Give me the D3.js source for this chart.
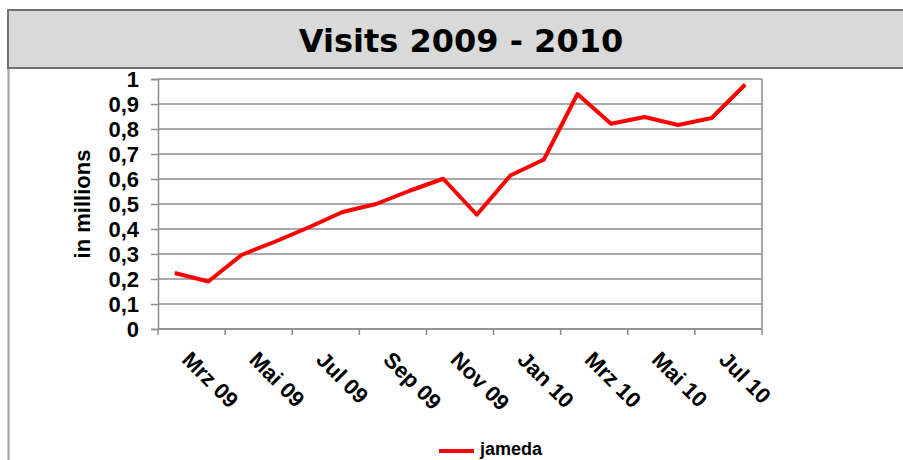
<!DOCTYPE html>
<html lang="de">

<head>
  <meta charset="UTF-8">
  <title>Visits 2009 - 2010</title>
  <script src="https://d3js.org/d3.v7.min.js"></script>
  <style>
    body {
      margin: 0;
      background: #fff;
      overflow: hidden;
    }

    text {
      font-family: "Liberation Sans", Arial, sans-serif;
      font-weight: bold;
      fill: #000;
    }

    .title {
      font-family: "DejaVu Sans", Verdana, sans-serif;
    }
  </style>
</head>

<body>
  <div id="chart"></div>

  <script>
    const months = ["Mrz 09", "Apr 09", "Mai 09", "Jun 09", "Jul 09", "Aug 09", "Sep 09", "Okt 09", "Nov 09",
      "Dez 09", "Jan 10", "Feb 10", "Mrz 10", "Apr 10", "Mai 10", "Jun 10", "Jul 10", "Aug 10"];
    const visits = [0.224, 0.19, 0.297, 0.35, 0.407, 0.468, 0.50, 0.553, 0.601,
      0.457, 0.614, 0.678, 0.94, 0.821, 0.848, 0.816, 0.844, 0.978];
    const yTicks = [0, 0.1, 0.2, 0.3, 0.4, 0.5, 0.6, 0.7, 0.8, 0.9, 1];
    const seriesName = "jameda";

    const W = 903, H = 460;
    const plot = { left: 158, right: 762, top: 79, bottom: 329 };

    const svg = d3.select("#chart").append("svg")
      .attr("width", W)
      .attr("height", H);

    // outer chart frame (left edge visible)
    svg.append("line")
      .attr("x1", 8.5).attr("x2", 8.5)
      .attr("y1", 60).attr("y2", H)
      .attr("stroke", "#a0a0a0")
      .attr("stroke-width", 2);

    // title box
    svg.append("rect")
      .attr("x", 8).attr("y", 10)
      .attr("width", W + 20).attr("height", 58)
      .attr("fill", "#d9d9d9")
      .attr("stroke", "#707070")
      .attr("stroke-width", 2);

    svg.append("text")
      .attr("class", "title")
      .attr("x", 461)
      .attr("y", 52)
      .attr("text-anchor", "middle")
      .attr("font-size", "32px")
      .text("Visits 2009 - 2010");

    const x = d3.scaleBand().domain(months).range([plot.left, plot.right]);
    const y = d3.scaleLinear().domain([0, 1]).range([plot.bottom, plot.top]);

    // gridlines
    svg.append("g")
      .selectAll("line")
      .data(yTicks)
      .join("line")
      .attr("x1", plot.left).attr("x2", plot.right)
      .attr("y1", d => y(d)).attr("y2", d => y(d))
      .attr("stroke", "#8c8c8c")
      .attr("stroke-width", 1.5);

    // right border
    svg.append("line")
      .attr("x1", plot.right).attr("x2", plot.right)
      .attr("y1", plot.top).attr("y2", plot.bottom)
      .attr("stroke", "#8c8c8c")
      .attr("stroke-width", 1.5);

    // y axis
    const yAxis = svg.append("g")
      .attr("transform", `translate(${plot.left},0)`)
      .call(d3.axisLeft(y).tickValues(yTicks).tickSize(7).tickPadding(12)
        .tickFormat(d => d3.format(".1~f")(d).replace(".", ",")));
    yAxis.attr("font-family", null);
    yAxis.select(".domain").attr("stroke", "#8c8c8c").attr("stroke-width", 1.5);
    yAxis.selectAll(".tick line").attr("stroke", "#8c8c8c").attr("stroke-width", 1.5);
    yAxis.selectAll(".tick text")
      .attr("font-size", "22px")
      .attr("dy", "0.36em");

    // x axis: ticks every second category boundary
    const bounds = d3.range(0, months.length + 1, 2).map(i => plot.left + i * x.bandwidth());
    svg.append("line")
      .attr("x1", plot.left).attr("x2", plot.right)
      .attr("y1", plot.bottom).attr("y2", plot.bottom)
      .attr("stroke", "#8c8c8c")
      .attr("stroke-width", 1.5);
    svg.append("g")
      .selectAll("line")
      .data(bounds)
      .join("line")
      .attr("x1", d => d).attr("x2", d => d)
      .attr("y1", plot.bottom).attr("y2", plot.bottom + 6)
      .attr("stroke", "#8c8c8c")
      .attr("stroke-width", 1.5);

    svg.append("g")
      .selectAll("text")
      .data(months.filter((m, i) => i % 2 === 0))
      .join("text")
      .attr("transform", d => `translate(${x(d) + x.bandwidth() / 2 + 6},${plot.bottom + 32}) rotate(45)`)
      .attr("font-size", "22px")
      .text(d => d);

    // y axis title
    svg.append("text")
      .attr("transform", `translate(90,${(plot.top + plot.bottom) / 2}) rotate(-90)`)
      .attr("text-anchor", "middle")
      .attr("font-size", "22px")
      .text("in millions");

    // line
    const line = d3.line()
      .x((d, i) => x(months[i]) + x.bandwidth() / 2)
      .y(d => y(d));

    svg.append("path")
      .datum(visits)
      .attr("fill", "none")
      .attr("stroke", "#ff0000")
      .attr("stroke-width", 4)
      .attr("stroke-linejoin", "round")
      .attr("d", line);

    // legend
    svg.append("line")
      .attr("x1", 439).attr("x2", 474)
      .attr("y1", 451).attr("y2", 451)
      .attr("stroke", "#ff0000")
      .attr("stroke-width", 4);
    svg.append("text")
      .attr("x", 480)
      .attr("y", 455)
      .attr("font-size", "18px")
      .text(seriesName);
  </script>
</body>

</html>
